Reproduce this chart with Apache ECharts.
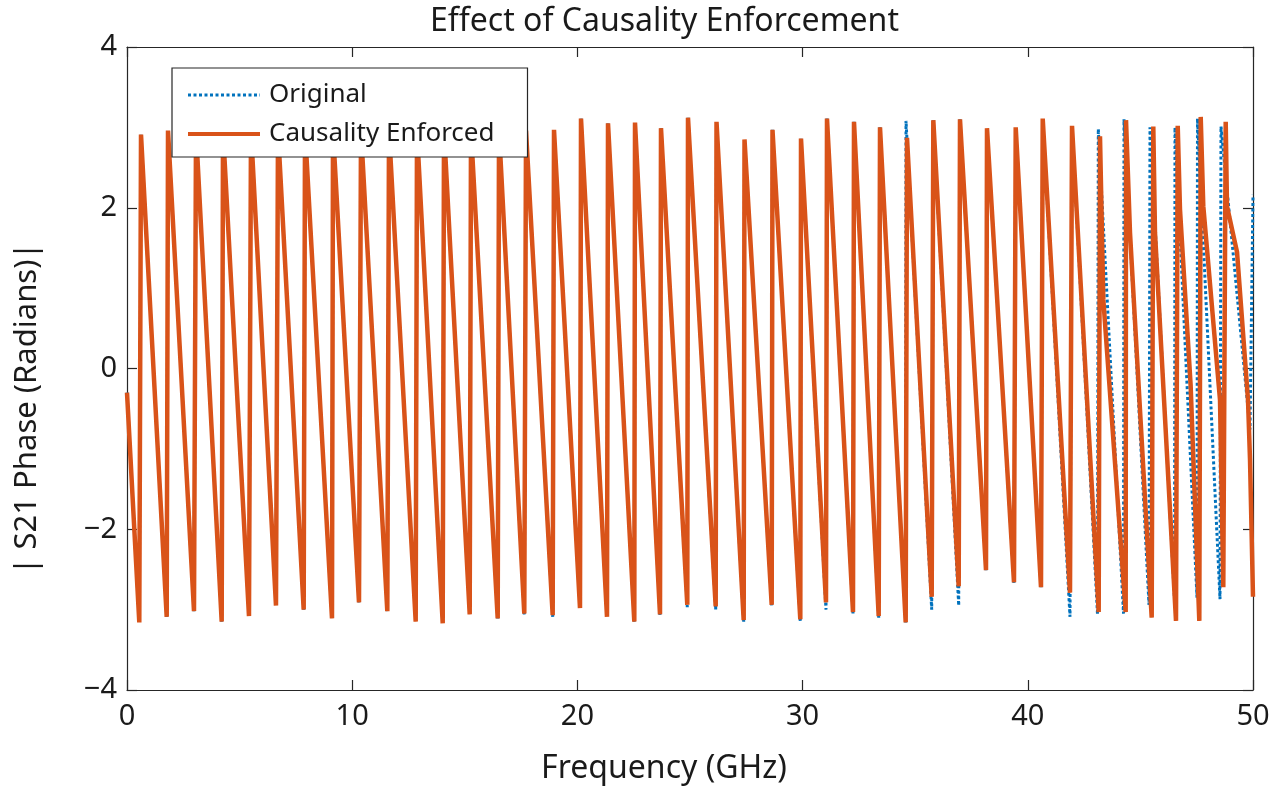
<!DOCTYPE html>
<html>
<head>
<meta charset="utf-8">
<script src="https://cdn.jsdelivr.net/npm/echarts@6/dist/echarts.min.js"></script>
<style>
html,body{margin:0;padding:0;background:#fff;}
#chart{width:1282px;height:790px;}
</style>
</head>
<body>
<div id="chart"></div>
<script>
// ---- data ----
const chartTitle = 'Effect of Causality Enforcement';
const xAxisName = 'Frequency (GHz)';
const yAxisName = '| S21 Phase (Radians)|';
const seriesNames = ['Original', 'Causality Enforced'];
const xTicks = [0, 10, 20, 30, 40, 50];
const yTicks = [-4, -2, 0, 2, 4];

// Original (blue dotted)
const origFreq = [0, 0.546, 0.622, 1.763, 1.821, 2.975, 3.064, 4.205, 4.263, 5.417, 5.506, 6.616, 6.705, 7.846, 7.904,
  9.103, 9.147, 10.302, 10.391, 11.559, 11.634, 12.820, 12.877, 14.019, 14.076, 15.218, 15.275, 16.461, 16.519,
  17.642, 17.718, 18.903, 18.961, 20.115, 20.160, 21.314, 21.359, 22.527, 22.558, 23.668, 23.712, 24.880, 24.911,
  26.141, 26.177, 27.384, 27.420, 28.628, 28.663, 29.898, 29.929, 31.039, 31.083, 32.238, 32.282, 33.379, 33.437,
  34.578, 34.592, 35.733, 35.804, 36.932, 36.989, 38.144, 38.188, 39.387, 39.463, 40.586, 40.662, 41.874, 41.963,
  43.095, 43.131, 44.249, 44.272, 45.382, 45.426, 46.514, 46.536, 47.513, 47.535, 48.535, 48.579, 49.867, 50];
const origPhase = [-0.30, -3.16, 2.91, -3.09, 2.96, -3.02, 2.96, -3.15, 2.96, -3.08, 2.97, -2.95, 2.96, -3.00, 2.97,
  -3.11, 2.96, -2.91, 2.96, -3.02, 2.97, -3.15, 2.96, -3.17, 2.97, -3.06, 2.96, -3.11, 2.97,
  -3.06, 2.96, -3.09, 2.97, -2.99, 3.11, -3.09, 3.05, -3.15, 3.06, -3.07, 2.99, -2.97, 3.12,
  -3.00, 3.07, -3.16, 2.85, -2.95, 2.97, -3.15, 2.86, -3.00, 3.11, -3.06, 3.07, -3.11, 3.00,
  -3.16, 3.08, -3.00, 3.09, -2.95, 3.10, -2.51, 2.99, -2.68, 3.00, -2.72, 3.11, -3.09, 3.02,
  -3.06, 2.98, -3.05, 3.10, -2.94, 3.00, -2.87, 3.00, -2.85, 3.11, -2.87, 3.01, -0.76, 2.16];

// Causality Enforced (orange solid)
const causFreq = [0, 0.546, 0.622, 1.763, 1.821, 2.975, 3.064, 4.205, 4.263, 5.417, 5.506, 6.616, 6.705, 7.846, 7.904,
  9.103, 9.147, 10.302, 10.391, 11.559, 11.634, 12.820, 12.877, 14.019, 14.076, 15.218, 15.275, 16.461, 16.519,
  17.642, 17.718, 18.903, 18.961, 20.115, 20.160, 21.314, 21.359, 22.527, 22.558, 23.668, 23.712, 24.880, 24.911,
  26.141, 26.177, 27.384, 27.420, 28.628, 28.663, 29.898, 29.929, 31.039, 31.083, 32.238, 32.282, 33.379, 33.437,
  34.578, 34.636, 35.733, 35.804, 36.932, 36.989, 38.144, 38.188, 39.387, 39.463, 40.586, 40.662, 41.874, 41.963,
  43.148, 43.206, 43.353, 44.347, 44.361, 44.538, 45.502, 45.573, 45.648, 46.581, 46.657, 46.758, 47.229, 47.616,
  47.678, 47.793, 48.535, 48.681, 48.788, 48.845, 49.290, 49.778, 49.867, 50];
const causPhase = [-0.30, -3.16, 2.91, -3.09, 2.96, -3.02, 2.96, -3.15, 2.96, -3.08, 2.97, -2.95, 2.96, -3.00, 2.97,
  -3.11, 2.96, -2.91, 2.96, -3.02, 2.97, -3.15, 2.96, -3.17, 2.97, -3.06, 2.96, -3.11, 2.97,
  -3.05, 2.96, -3.07, 2.97, -2.98, 3.11, -3.09, 3.05, -3.15, 3.06, -3.06, 2.99, -2.94, 3.12,
  -2.96, 3.07, -3.13, 2.85, -2.94, 2.97, -3.12, 2.86, -2.91, 3.11, -3.03, 3.07, -3.08, 3.00,
  -3.16, 2.87, -2.84, 3.09, -2.71, 3.10, -2.51, 2.99, -2.66, 3.00, -2.72, 3.11, -2.79, 3.02,
  -3.03, 2.89, 0.86, -3.03, 3.09, 1.69, -3.10, 3.01, 1.69, -3.14, 3.02, 1.98, -0.20, -3.14,
  3.13, 2.02, -0.39, -2.72, 3.07, 2.02, 1.45, -0.39, -1.13, -2.84];

const zip = (xs, ys) => xs.map((x, i) => [x, ys[i]]);
const minus = v => String(v).replace('-', '\u2212');

const FONT = 'Noto Sans';
const TXT = '#1a1a1a';
const AX = '#262626';
const BLUE = '#0072BD';
const ORANGE = '#D95319';

const chart = echarts.init(document.getElementById('chart'), null, {renderer: 'canvas'});
const axisCommon = {
  axisLine: {show: true, onZero: false, lineStyle: {color: AX, width: 1.2}},
  axisTick: {show: true, inside: true, length: 10, lineStyle: {color: AX, width: 1.2}},
  splitLine: {show: false}
};
chart.setOption({
  animation: false,
  backgroundColor: '#ffffff',
  textStyle: {fontFamily: FONT},
  title: {
    text: chartTitle, left: 430, top: 6, padding: 0,
    textStyle: {fontFamily: FONT, fontSize: 32, fontWeight: 'normal', color: TXT}
  },
  grid: {left: 127, right: 29, top: 47, bottom: 100, containLabel: false},
  legend: {
    data: [
      {name: seriesNames[0], itemStyle: {opacity: 0}, lineStyle: {color: BLUE, width: 3, type: [3, 2.5]}},
      {name: seriesNames[1], itemStyle: {opacity: 0}, lineStyle: {color: ORANGE, width: 4}}
    ],
    orient: 'vertical', left: 172, top: 68,
    backgroundColor: '#ffffff', borderColor: AX, borderWidth: 1.2,
    padding: [10, 33, 6, 14],
    itemWidth: 72, itemHeight: 14, itemGap: 5,
    textStyle: {fontFamily: FONT, fontSize: 26, color: TXT, lineHeight: 34, padding: [0, 0, 0, 4]}
  },
  xAxis: [
    Object.assign({}, axisCommon, {
      type: 'value', position: 'bottom', min: xTicks[0], max: xTicks[xTicks.length - 1], interval: xTicks[1] - xTicks[0],
      name: xAxisName, nameLocation: 'middle', nameGap: 63,
      nameTextStyle: {fontFamily: FONT, fontSize: 32, color: TXT, padding: [0, 52, 0, 0]},
      axisLabel: {fontFamily: FONT, fontSize: 29, color: TXT, margin: 12}
    }),
    Object.assign({}, axisCommon, {
      type: 'value', position: 'top', min: xTicks[0], max: xTicks[xTicks.length - 1], interval: xTicks[1] - xTicks[0],
      axisLabel: {show: false}
    })
  ],
  yAxis: [
    Object.assign({}, axisCommon, {
      type: 'value', position: 'left', min: yTicks[0], max: yTicks[yTicks.length - 1], interval: yTicks[1] - yTicks[0],
      name: yAxisName, nameLocation: 'middle', nameGap: 84, nameRotate: 90,
      nameTextStyle: {fontFamily: FONT, fontSize: 31, color: TXT, padding: [0, 80, 0, 0]},
      axisLabel: {fontFamily: FONT, fontSize: 29, color: TXT, margin: 10, formatter: minus}
    }),
    Object.assign({}, axisCommon, {
      type: 'value', position: 'right', min: yTicks[0], max: yTicks[yTicks.length - 1], interval: yTicks[1] - yTicks[0],
      axisLabel: {show: false}
    })
  ],
  series: [
    {
      name: seriesNames[0], type: 'line', data: zip(origFreq, origPhase),
      showSymbol: false, symbol: 'none',
      lineStyle: {color: BLUE, width: 3, type: [3, 2.5]},
      itemStyle: {color: BLUE}
    },
    {
      name: seriesNames[1], type: 'line', data: zip(causFreq, causPhase),
      showSymbol: false, symbol: 'none',
      lineStyle: {color: ORANGE, width: 4.5},
      itemStyle: {color: ORANGE}
    }
  ]
});
</script>
</body>
</html>
